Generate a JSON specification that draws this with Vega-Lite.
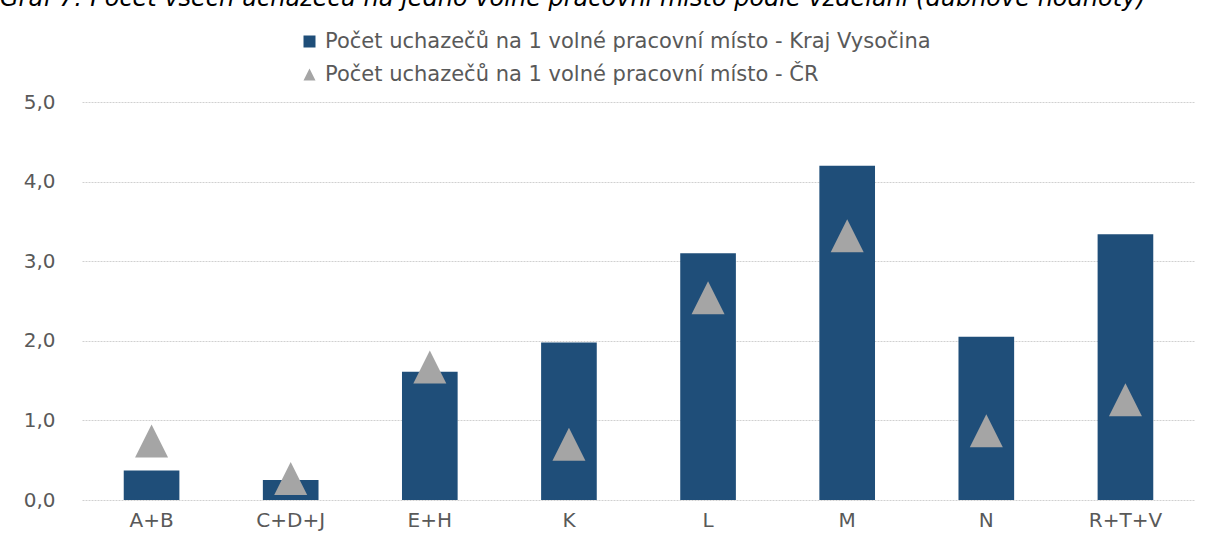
{
  "$schema": "https://vega.github.io/schema/vega-lite/v6.json",
  "width": 1113,
  "height": 398,
  "autosize": {"type": "none"},
  "padding": {"left": 82, "top": 102, "right": 16, "bottom": 51},
  "background": "white",
  "title": {
    "text": "Graf 7: Počet všech uchazečů na jedno volné pracovní místo podle vzdělání (dubnové hodnoty)",
    "anchor": "start",
    "frame": "group",
    "orient": "top",
    "baseline": "alphabetic",
    "font": "DejaVu Sans",
    "fontStyle": "italic",
    "fontWeight": "normal",
    "fontSize": 24,
    "color": "#000000",
    "dx": -82,
    "dy": 9,
    "offset": 10
  },
  "data": {
    "values": [
      {"cat": "A+B", "series": "Počet uchazečů na 1 volné pracovní místo - Kraj Vysočina", "value": 0.37},
      {"cat": "C+D+J", "series": "Počet uchazečů na 1 volné pracovní místo - Kraj Vysočina", "value": 0.25},
      {"cat": "E+H", "series": "Počet uchazečů na 1 volné pracovní místo - Kraj Vysočina", "value": 1.61},
      {"cat": "K", "series": "Počet uchazečů na 1 volné pracovní místo - Kraj Vysočina", "value": 1.98},
      {"cat": "L", "series": "Počet uchazečů na 1 volné pracovní místo - Kraj Vysočina", "value": 3.1},
      {"cat": "M", "series": "Počet uchazečů na 1 volné pracovní místo - Kraj Vysočina", "value": 4.2},
      {"cat": "N", "series": "Počet uchazečů na 1 volné pracovní místo - Kraj Vysočina", "value": 2.05},
      {"cat": "R+T+V", "series": "Počet uchazečů na 1 volné pracovní místo - Kraj Vysočina", "value": 3.34},
      {"cat": "A+B", "series": "Počet uchazečů na 1 volné pracovní místo - ČR", "value": 0.74},
      {"cat": "C+D+J", "series": "Počet uchazečů na 1 volné pracovní místo - ČR", "value": 0.27},
      {"cat": "E+H", "series": "Počet uchazečů na 1 volné pracovní místo - ČR", "value": 1.67},
      {"cat": "K", "series": "Počet uchazečů na 1 volné pracovní místo - ČR", "value": 0.7},
      {"cat": "L", "series": "Počet uchazečů na 1 volné pracovní místo - ČR", "value": 2.54},
      {"cat": "M", "series": "Počet uchazečů na 1 volné pracovní místo - ČR", "value": 3.32},
      {"cat": "N", "series": "Počet uchazečů na 1 volné pracovní místo - ČR", "value": 0.87},
      {"cat": "R+T+V", "series": "Počet uchazečů na 1 volné pracovní místo - ČR", "value": 1.26}
    ]
  },
  "encoding": {
    "x": {
      "field": "cat",
      "type": "nominal",
      "sort": null,
      "scale": {"paddingInner": 0.6, "paddingOuter": 0.3},
      "axis": {
        "title": null,
        "labelAngle": 0,
        "domain": false,
        "ticks": false,
        "labelPadding": 10,
        "labelFont": "DejaVu Sans",
        "labelFontSize": 20,
        "labelColor": "#595959"
      }
    },
    "y": {
      "field": "value",
      "type": "quantitative",
      "scale": {"domain": [0, 5], "nice": false},
      "axis": {
        "title": null,
        "values": [0, 1, 2, 3, 4, 5],
        "labelExpr": "replace(format(datum.value, '.1f'), '.', ',')",
        "domain": false,
        "ticks": false,
        "labelPadding": 27,
        "labelFont": "DejaVu Sans",
        "labelFontSize": 20,
        "labelColor": "#595959",
        "grid": true,
        "gridColor": "#D0D0D0",
        "gridDash": [2, 1],
        "gridWidth": 1
      }
    },
    "color": {
      "field": "series",
      "type": "nominal",
      "scale": {
        "domain": ["Počet uchazečů na 1 volné pracovní místo - Kraj Vysočina", "Počet uchazečů na 1 volné pracovní místo - ČR"],
        "range": ["#1F4E79", "#A5A5A5"]
      },
      "legend": {
        "title": null,
        "orient": "none",
        "legendX": 217,
        "legendY": -71,
        "direction": "vertical",
        "padding": 0,
        "rowPadding": 11,
        "symbolSize": 144,
        "symbolStrokeWidth": 0,
        "labelFont": "DejaVu Sans",
        "labelFontSize": 21,
        "labelColor": "#595959",
        "labelOffset": 5,
        "labelLimit": 900
      }
    }
  },
  "layer": [
    {
      "transform": [{"filter": "datum.series === 'Počet uchazečů na 1 volné pracovní místo - Kraj Vysočina'"}],
      "mark": {"type": "bar"}
    },
    {
      "transform": [{"filter": "datum.series === 'Počet uchazečů na 1 volné pracovní místo - ČR'"}],
      "mark": {"type": "point", "filled": true, "opacity": 1, "size": 1089},
      "encoding": {
        "shape": {
          "field": "series",
          "type": "nominal",
          "scale": {
            "domain": ["Počet uchazečů na 1 volné pracovní místo - Kraj Vysočina", "Počet uchazečů na 1 volné pracovní místo - ČR"],
            "range": ["square", "M0,-1L1,1L-1,1Z"]
          },
          "legend": {
            "title": null,
            "orient": "none",
            "legendX": 217,
            "legendY": -71,
            "direction": "vertical",
            "padding": 0,
            "rowPadding": 11,
            "symbolSize": 144,
            "symbolStrokeWidth": 0,
            "labelFont": "DejaVu Sans",
            "labelFontSize": 21,
            "labelColor": "#595959",
            "labelOffset": 5,
            "labelLimit": 900
          }
        }
      }
    }
  ],
  "config": {
    "view": {"stroke": null}
  }
}
